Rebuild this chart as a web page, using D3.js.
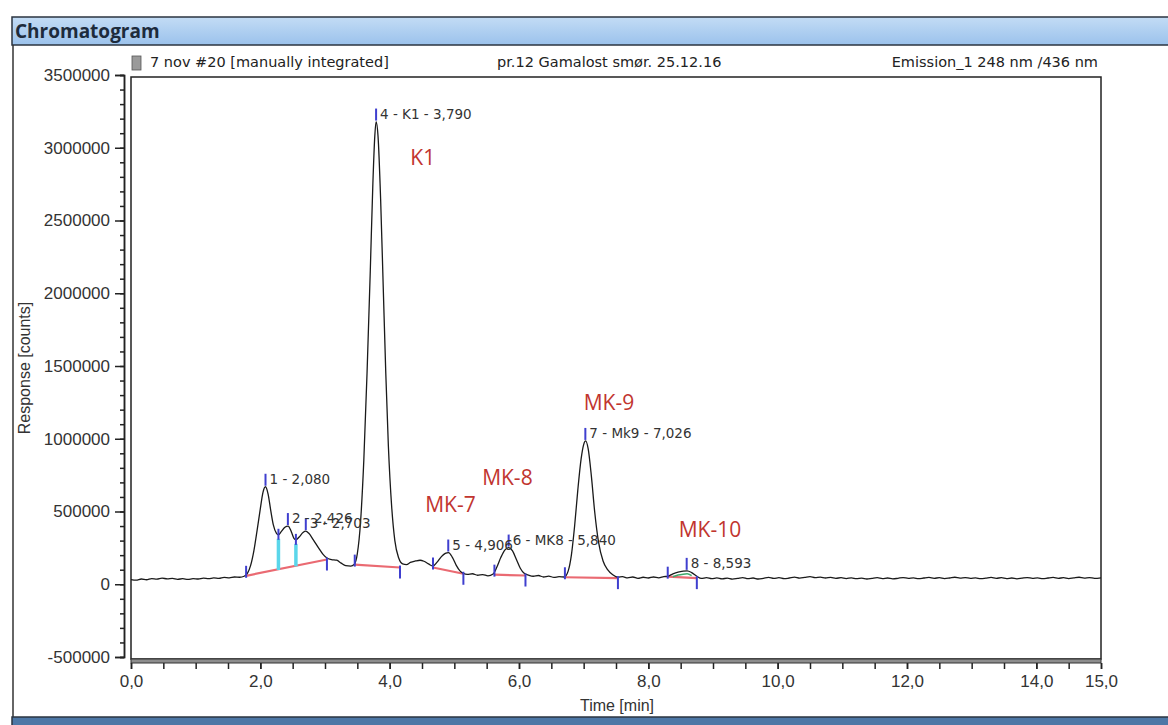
<!DOCTYPE html>
<html>
<head>
<meta charset="utf-8">
<script src="https://cdn.jsdelivr.net/npm/d3@7"></script>
<style>
  body { margin: 0; background: #fff; }
  svg { display: block; }
</style>
</head>
<body>
<svg id="chart" width="1168" height="725"></svg>
<script>
// ---------- data ----------
const trace = [
  [0.00,32000],[0.08,28000],[0.16,36000],[0.24,31000],[0.32,39000],[0.40,35000],[0.48,42000],[0.56,37000],
  [0.64,40000],[0.72,34000],[0.80,38000],[0.88,33000],[0.96,39000],[1.04,36000],[1.12,42000],[1.20,38000],
  [1.28,44000],[1.36,40000],[1.44,47000],[1.52,44000],[1.60,50000],[1.68,48000],[1.75,55000],
  // peaks 1-3
  [1.80,75000],[1.85,130000],[1.90,230000],[1.95,370000],[2.00,520000],[2.04,630000],[2.08,670000],[2.12,620000],
  [2.16,510000],[2.20,410000],[2.25,350000],[2.28,340000],[2.32,360000],[2.38,392000],[2.43,400000],[2.48,360000],
  [2.52,315000],[2.55,305000],[2.60,325000],[2.66,355000],[2.70,365000],[2.75,350000],[2.82,305000],[2.90,250000],
  [2.97,205000],[3.03,180000],[3.10,170000],[3.18,165000],[3.25,145000],[3.32,128000],[3.40,125000],[3.45,135000],
  // K1
  [3.50,210000],[3.55,430000],[3.60,850000],[3.65,1450000],[3.70,2150000],[3.74,2750000],[3.77,3080000],[3.79,3180000],
  [3.82,3080000],[3.86,2650000],[3.90,2050000],[3.94,1450000],[3.98,950000],[4.03,540000],[4.08,300000],[4.14,180000],
  [4.20,140000],[4.26,135000],[4.32,150000],[4.40,160000],[4.47,165000],[4.53,158000],[4.60,140000],[4.67,125000],
  // MK-7
  [4.73,150000],[4.80,190000],[4.86,212000],[4.91,218000],[4.97,185000],[5.03,130000],[5.09,90000],[5.14,75000],
  [5.20,68000],[5.28,72000],[5.36,62000],[5.44,66000],[5.52,58000],[5.60,70000],
  // MK-8
  [5.66,120000],[5.72,185000],[5.78,235000],[5.84,252000],[5.90,230000],[5.96,170000],[6.02,110000],[6.08,75000],
  [6.15,62000],[6.22,55000],[6.30,60000],[6.38,50000],[6.46,56000],[6.54,47000],[6.62,52000],[6.70,50000],
  // MK-9
  [6.76,90000],[6.81,200000],[6.86,400000],[6.91,650000],[6.96,860000],[7.00,960000],[7.03,985000],[7.07,930000],
  [7.12,740000],[7.17,500000],[7.23,290000],[7.30,160000],[7.37,100000],[7.45,65000],[7.53,48000],[7.60,52000],
  [7.68,44000],[7.76,50000],[7.84,41000],[7.92,48000],[8.00,43000],[8.08,50000],[8.16,44000],[8.24,52000],[8.30,55000],
  // MK-10
  [8.38,72000],[8.46,84000],[8.54,90000],[8.60,92000],[8.67,80000],[8.75,55000],[8.82,40000],[8.90,45000],[8.98,38000],
  // flat tail
  [9.06,44000],[9.14,37000],[9.22,42000],[9.30,35000],[9.38,40000],[9.46,46000],[9.54,38000],[9.62,43000],
  [9.70,36000],[9.78,41000],[9.86,47000],[9.94,40000],[10.02,45000],[10.10,38000],[10.18,43000],[10.26,49000],
  [10.34,42000],[10.42,47000],[10.50,52000],[10.58,45000],[10.66,49000],[10.74,43000],[10.82,47000],[10.90,41000],
  [10.98,45000],[11.06,39000],[11.14,44000],[11.22,38000],[11.30,42000],[11.38,36000],[11.46,41000],[11.54,45000],
  [11.62,39000],[11.70,43000],[11.78,37000],[11.86,41000],[11.94,46000],[12.02,40000],[12.10,44000],[12.18,38000],
  [12.26,43000],[12.34,47000],[12.42,41000],[12.50,45000],[12.58,39000],[12.66,43000],[12.74,48000],[12.82,42000],
  [12.90,46000],[12.98,40000],[13.06,44000],[13.14,38000],[13.22,42000],[13.30,47000],[13.38,41000],[13.46,45000],
  [13.54,39000],[13.62,43000],[13.70,37000],[13.78,42000],[13.86,46000],[13.94,40000],[14.02,44000],[14.10,38000],
  [14.18,43000],[14.26,47000],[14.34,41000],[14.42,45000],[14.50,39000],[14.58,44000],[14.66,48000],[14.74,42000],
  [14.82,46000],[14.90,40000],[15.00,44000]
];

// peak apex labels
const peakLabels = ["1 - 2,080", "2 - 2,426", "3 - 2,703", "4 - K1 - 3,790", "5 - 4,906", "6 - MK8 - 5,840", "7 - Mk9 - 7,026", "8 - 8,593"];
const peakTimes  = [2.080, 2.426, 2.703, 3.790, 4.906, 5.840, 7.026, 8.593];
const peakTops   = [670000, 400000, 365000, 3180000, 218000, 252000, 985000, 92000];

// integration baselines: [tStart, vStart, tEnd, vEnd]
const baselines = [
  [1.78, 58000, 3.03, 170000],
  [3.46, 135000, 4.16, 115000],
  [4.67, 115000, 5.14, 72000],
  [5.62, 66000, 6.10, 60000],
  [6.71, 48000, 7.53, 42000],
  [8.30, 52000, 8.75, 42000]
];

// valleys between peaks 1/2 and 2/3 (drop lines)
const valleyTimes = [2.28, 2.55];
const valleyTops  = [340000, 305000];
const valleyBase  = [98000, 123000];

// red compound annotations
const noteNames = ["K1", "MK-7", "MK-8", "MK-9", "MK-10"];
const noteTimes = [4.32, 4.55, 5.43, 7.00, 8.47];
const noteResp  = [2880000, 495000, 680000, 1196000, 323000];

const headerTexts = ["7 nov #20 [manually integrated]", "pr.12 Gamalost smør. 25.12.16", "Emission_1 248 nm /436 nm"];
const xLabelTicks = [0, 2, 4, 6, 8, 10, 12, 14, 15];
const yLabelTicks = [-500000, 0, 500000, 1000000, 1500000, 2000000, 2500000, 3000000, 3500000];

// ---------- setup ----------
const svg = d3.select("#chart");
const frame = {left: 131, right: 1101, top: 77, bottom: 659};

const x = d3.scaleLinear().domain([0, 15]).range([frame.left, frame.right]);
const y = d3.scaleLinear().domain([-500000, 3500000]).range([657, 75]);

// ---------- window chrome ----------
const grad = svg.append("defs").append("linearGradient")
  .attr("id", "titleGrad").attr("x1", 0).attr("y1", 0).attr("x2", 0).attr("y2", 1);
grad.append("stop").attr("offset", "0%").attr("stop-color", "#c3dcf5");
grad.append("stop").attr("offset", "100%").attr("stop-color", "#9bc2ec");

svg.append("rect").attr("x", 12).attr("y", 17).attr("width", 1160).attr("height", 28)
  .attr("fill", "url(#titleGrad)").attr("stroke", "#2b3440").attr("stroke-width", 1.5);
svg.append("text").attr("x", 15).attr("y", 38)
  .attr("font-family", "Open Sans").attr("font-weight", "bold").attr("font-size", 19)
  .attr("fill", "#1d2b3c").text("Chromatogram");

svg.append("line").attr("x1", 13).attr("x2", 13).attr("y1", 45).attr("y2", 717)
  .attr("stroke", "#333").attr("stroke-width", 1.5);
svg.append("rect").attr("x", 12).attr("y", 717).attr("width", 1160).attr("height", 10)
  .attr("fill", "#4d77a6").attr("stroke", "#2b3440").attr("stroke-width", 1.5);

// header line of the plot
svg.append("rect").attr("x", 132).attr("y", 56).attr("width", 9).attr("height", 14)
  .attr("fill", "#9a9a9a").attr("stroke", "#555").attr("stroke-width", 0.8);
svg.selectAll(".hdr").data(headerTexts).enter().append("text")
  .attr("class", "hdr")
  .attr("x", (d, i) => [150, 497, 1098][i])
  .attr("y", 67)
  .attr("text-anchor", (d, i) => i === 2 ? "end" : "start")
  .attr("font-family", "DejaVu Sans").attr("font-size", 14.5)
  .attr("fill", "#222")
  .text(d => d);

// plot frame
svg.append("rect").attr("x", frame.left).attr("y", frame.top)
  .attr("width", frame.right - frame.left).attr("height", frame.bottom - frame.top)
  .attr("fill", "none").attr("stroke", "#222").attr("stroke-width", 1.5);

// ---------- axes ----------
const yMinor = svg.append("g").attr("transform", "translate(124,0)")
  .call(d3.axisLeft(y).tickValues(d3.range(-500000, 3500001, 100000)).tickSize(4).tickFormat(""));
const yMajor = svg.append("g").attr("transform", "translate(124,0)")
  .call(d3.axisLeft(y).tickValues(yLabelTicks).tickSize(9).tickPadding(5).tickFormat(d => String(d)));
[yMinor, yMajor].forEach(g => {
  g.select(".domain").attr("stroke", "#222").attr("stroke-width", 1.5);
  g.selectAll(".tick line").attr("stroke", "#222").attr("stroke-width", 1.5);
});
yMajor.selectAll(".tick text").attr("font-family", "Liberation Sans").attr("font-size", 17).attr("fill", "#333");

// x axis: grey double band under the frame
svg.append("rect").attr("x", frame.left).attr("y", frame.bottom).attr("width", frame.right - frame.left).attr("height", 4)
  .attr("fill", "#8d8d8d").attr("stroke", "#333").attr("stroke-width", 1);
const xMinor = svg.append("g").attr("transform", "translate(0,663)")
  .call(d3.axisBottom(x).tickValues(d3.range(0, 15.01, 0.5)).tickSize(6).tickFormat(""));
const xMajor = svg.append("g").attr("transform", "translate(0,663)")
  .call(d3.axisBottom(x).tickValues(xLabelTicks).tickSize(6).tickPadding(6).tickFormat(d => d3.format(".1f")(d).replace(".", ",")));
[xMinor, xMajor].forEach(g => {
  g.select(".domain").remove();
  g.selectAll(".tick line").attr("stroke", "#222").attr("stroke-width", 1.5);
});
xMajor.selectAll(".tick text").attr("font-family", "Liberation Sans").attr("font-size", 17).attr("fill", "#333");

svg.append("text").attr("x", 617).attr("y", 711).attr("text-anchor", "middle")
  .attr("font-family", "Liberation Sans").attr("font-size", 16).attr("fill", "#333").text("Time [min]");
svg.append("text").attr("transform", "translate(30,368) rotate(-90)").attr("text-anchor", "middle")
  .attr("font-family", "Liberation Sans").attr("font-size", 16).attr("fill", "#333").text("Response [counts]");

// ---------- integration marks ----------
const plot = svg.append("g");

plot.selectAll(".base").data(baselines).enter().append("line")
  .attr("x1", d => x(d[0])).attr("y1", d => y(d[1]))
  .attr("x2", d => x(d[2])).attr("y2", d => y(d[3]))
  .attr("stroke", "#ea6a72").attr("stroke-width", 2.2);

plot.selectAll(".drop").data(valleyTimes).enter().append("line")
  .attr("x1", d => x(d)).attr("x2", d => x(d))
  .attr("y1", (d, i) => y(valleyTops[i]) + 4).attr("y2", (d, i) => y(valleyBase[i]))
  .attr("stroke", "#5ad6ea").attr("stroke-width", 3.5);

// small green fill outline on the last peak
plot.append("path")
  .attr("d", d3.line().x(d => x(d[0])).y(d => y(d[1])).curve(d3.curveMonotoneX)(trace.filter(d => d[0] >= 8.33 && d[0] <= 8.72)))
  .attr("fill", "none").attr("stroke", "#3da86a").attr("stroke-width", 1.5).attr("transform", "translate(0,3)");

// ---------- trace ----------
const line = d3.line()
  .x(d => x(d[0]))
  .y(d => y(d[1]))
  .curve(d3.curveMonotoneX);

plot.append("path").datum(trace)
  .attr("d", line)
  .attr("fill", "none").attr("stroke", "#1a1a1a").attr("stroke-width", 1.3);

// peak start / end / valley ticks
const markColor = "#3f3fcf";
plot.selectAll(".startMark").data(baselines).enter().append("line")
  .attr("x1", d => x(d[0])).attr("x2", d => x(d[0]))
  .attr("y1", d => y(d[1]) - 10).attr("y2", d => y(d[1]) + 2)
  .attr("stroke", markColor).attr("stroke-width", 2);
plot.selectAll(".endMark").data(baselines).enter().append("line")
  .attr("x1", d => x(d[2])).attr("x2", d => x(d[2]))
  .attr("y1", d => y(d[3]) - 2).attr("y2", d => y(d[3]) + 11)
  .attr("stroke", markColor).attr("stroke-width", 2);
plot.selectAll(".valleyMark").data(valleyTimes).enter().append("line")
  .attr("x1", d => x(d)).attr("x2", d => x(d))
  .attr("y1", (d, i) => y(valleyTops[i]) - 6).attr("y2", (d, i) => y(valleyTops[i]) + 5)
  .attr("stroke", markColor).attr("stroke-width", 2);

// apex ticks and labels
plot.selectAll(".apexMark").data(peakTimes).enter().append("line")
  .attr("x1", d => x(d)).attr("x2", d => x(d))
  .attr("y1", (d, i) => y(peakTops[i]) - 13).attr("y2", (d, i) => y(peakTops[i]) - 1)
  .attr("stroke", markColor).attr("stroke-width", 2);
plot.selectAll(".apexLabel").data(peakLabels).enter().append("text")
  .attr("x", (d, i) => x(peakTimes[i]) + 4)
  .attr("y", (d, i) => y(peakTops[i]) - 3)
  .attr("font-family", "DejaVu Sans").attr("font-size", 13.5)
  .attr("fill", "#333")
  .text(d => d);

// red annotations
plot.selectAll(".note").data(noteNames).enter().append("text")
  .attr("x", (d, i) => x(noteTimes[i]))
  .attr("y", (d, i) => y(noteResp[i]))
  .attr("font-family", "Open Sans").attr("font-size", 21)
  .attr("fill", "#c1352f")
  .text(d => d);
</script>
</body>
</html>
